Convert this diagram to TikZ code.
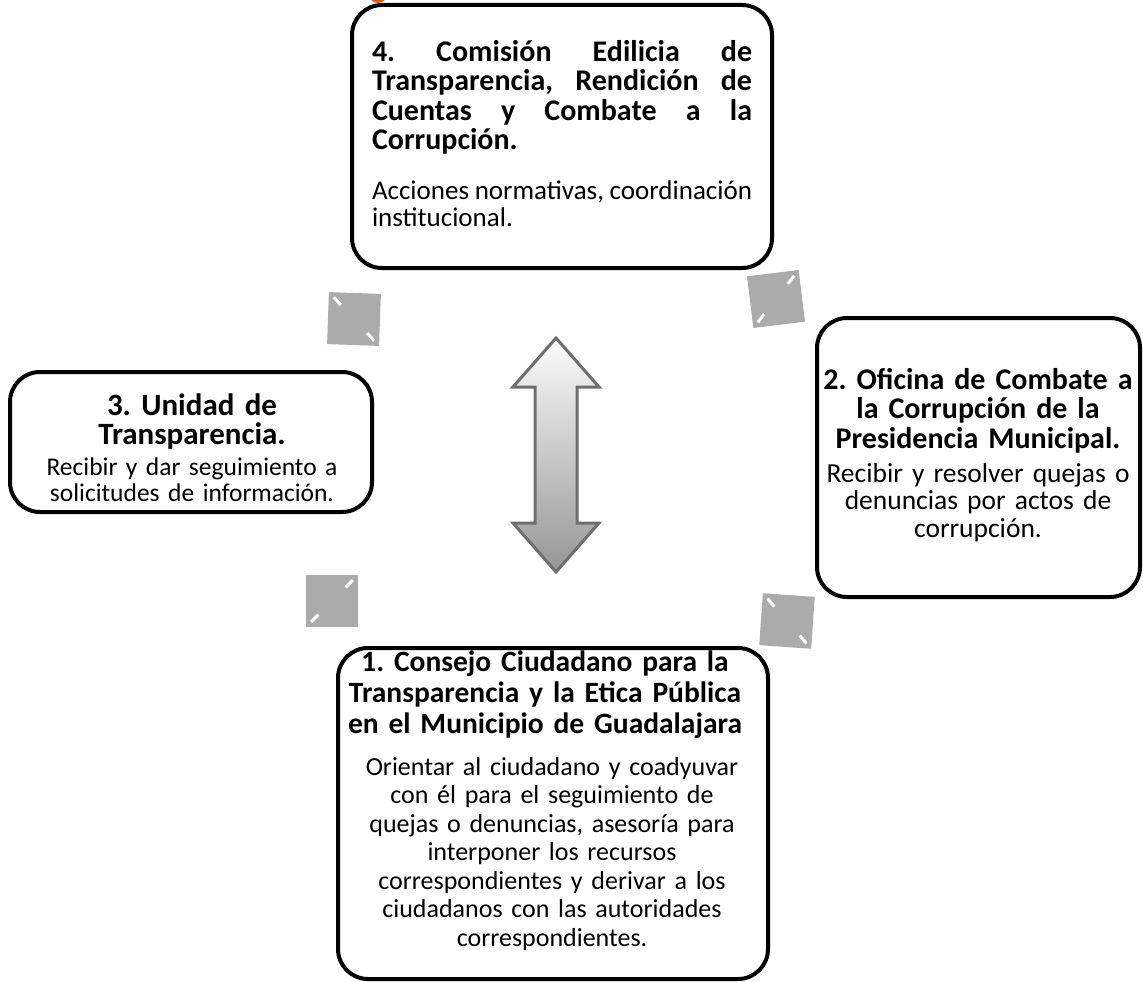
\documentclass[tikz,border=0pt]{standalone}
\usepackage{fontspec}
\setmainfont{Carlito}
\frenchspacing
\usetikzlibrary{positioning,calc}
\definecolor{markgray}{HTML}{ABABAB}
\definecolor{arrowline}{HTML}{6E6E6E}
\definecolor{arrowtop}{HTML}{FBFBFB}
\definecolor{arrowbottom}{HTML}{969696}
\definecolor{dotorange}{HTML}{D2601A}
\tikzset{
    unitbox/.style={draw, line width=4pt, rounded corners=30pt, inner sep=0pt},
    headtext/.style 2 args={inner sep=0pt, font=\bfseries\fontsize{#1}{#2}\selectfont},
    desctext/.style 2 args={inner sep=0pt, font=\fontsize{#1}{#2}\selectfont},
    cyclemark/.style={fill=markgray, minimum size=52pt, inner sep=0pt},
    notch/.style={white, line width=3pt},
}
\begin{document}
\begin{tikzpicture}[x=1pt, y=-1pt]
    \useasboundingbox (0,0) rectangle (1143,982);
    % dot cut by the top of the page
    \fill[dotorange] (378,-6) circle (9pt);
    % the four marks of the cycle
    \foreach \pos/\cx/\cy/\rot/\da/\db in {NW/354/319/-2/north west/south east, NE/776/299/7/north east/south west, SW/332/601/0/north east/south west, SE/787/621/-4/north west/south east}
    {
        \node[cyclemark, rotate=\rot] (mark\pos) at (\cx,\cy) {};
        \draw[notch] ($(mark\pos.\da)!0.1!(mark\pos.\db)$) -- ($(mark\pos.\da)!0.24!(mark\pos.\db)$);
        \draw[notch] ($(mark\pos.\db)!0.1!(mark\pos.\da)$) -- ($(mark\pos.\db)!0.24!(mark\pos.\da)$);
    }
    % double arrow in the middle
    \path[draw=arrowline, line width=3pt, top color=arrowtop, bottom color=arrowbottom]
        (556,338) -- (599,387) -- (577,387) -- (577,523) -- (599,523) -- (556,572)
        -- (513,523) -- (535,523) -- (535,387) -- (513,387) -- cycle;
    % 4
    \node[unitbox, minimum width=420pt, minimum height=263pt] (comision) at (562,136.5) {};
    \node[headtext={30}{29.5}, text width=380pt, align=justify, anchor=north] (comisionhead) at (562,40)
        {\sloppy 4. Comisión Edilicia de\linebreak Transparencia, Rendición de\linebreak Cuentas y Combate a la\linebreak Corrupción.};
    \node[desctext={27}{26.5}, text width=380pt, align=justify, anchor=north] (comisiondesc) at (562,181)
        {\sloppy Acciones normativas, coordinación\linebreak institucional.};
    % 3
    \node[unitbox, minimum width=362pt, minimum height=140pt] (unidad) at (191,442) {};
    \node[headtext={31}{29}, text width=340pt, align=center, anchor=north] (unidadhead) at (192,394)
        {3. Unidad de\\Transparencia.};
    \node[desctext={25.5}{25.5}, text width=340pt, align=center, anchor=north] (unidaddesc) at (192,458)
        {Recibir y dar seguimiento a\\solicitudes de información.};
    % 2
    \node[unitbox, minimum width=323pt, minimum height=279pt] (oficina) at (978.5,457.5) {};
    \node[headtext={30}{29.5}, text width=340pt, align=center, anchor=north] (oficinahead) at (978,368)
        {2. Oficina de Combate a\\la Corrupción de la\\Presidencia Municipal.};
    \node[desctext={27.5}{27.5}, text width=340pt, align=center, anchor=north] (oficinadesc) at (978,463)
        {Recibir y resolver quejas o\\denuncias por actos de\\corrupción.};
    % 1
    \node[unitbox, minimum width=430pt, minimum height=331pt] (consejo) at (553,813.5) {};
    \node[headtext={29.5}{31}, text width=420pt, align=center, anchor=north] (consejohead) at (545,651)
        {1. Consejo Ciudadano para la\\Transparencia y la Etica Pública\\en el Municipio de Guadalajara};
    \node[desctext={26}{28.5}, text width=420pt, align=center, anchor=north] (consejodesc) at (552,757)
        {Orientar al ciudadano y coadyuvar\\con él para el seguimiento de\\quejas o denuncias, asesoría para\\interponer los recursos\\correspondientes y derivar a los\\ciudadanos con las autoridades\\correspondientes.};
\end{tikzpicture}
\end{document}
